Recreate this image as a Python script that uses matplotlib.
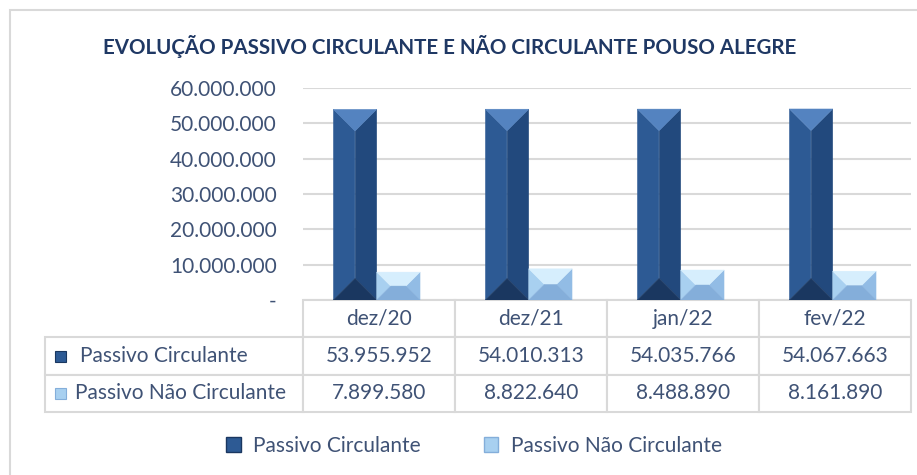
import matplotlib
matplotlib.use("Agg")
import matplotlib.pyplot as plt
from matplotlib.patches import Polygon, Rectangle, Patch
import numpy as np

categories = ["dez/20", "dez/21", "jan/22", "fev/22"]
circulante = [53955952, 54010313, 54035766, 54067663]
nao_circulante = [7899580, 8822640, 8488890, 8161890]
series_names = ["Passivo Circulante", "Passivo Não Circulante"]
title = "EVOLUÇÃO PASSIVO CIRCULANTE E NÃO CIRCULANTE POUSO ALEGRE"

TXT = "#3F5275"
NAVY = "#1F3864"
GRID = "#D9D9D9"
# left, right, top, bottom faces
DARK = ["#2D5A94", "#22497D", "#5483C0", "#1A3760"]
LIGHT = ["#A8D0F0", "#92BCE5", "#D6EEFD", "#84AEDA"]

plt.rcParams["font.family"] = ["Lato", "DejaVu Sans"]


def fmt(v):
    if v == 0:
        return "-"
    return f"{int(v):,}".replace(",", ".")


fig = plt.figure(figsize=(9.17, 4.75), dpi=100)
W, H = 917, 475
ax = fig.add_axes([303 / W, 1 - 300 / H, 608 / W, 212 / H])
ax.set_xlim(-0.5, 3.5)
ax.set_ylim(0, 60e6)

x = np.arange(len(categories))
bw = 0.285
off = 0.015
b1 = ax.bar(x - bw / 2 - off, circulante, bw, color=DARK[0], zorder=2)
b2 = ax.bar(x + bw / 2 - off, nao_circulante, bw, color=LIGHT[0], zorder=2)

pxx = 608 / 4.0
pxy = 212 / 60e6


def bevel(rects, cols):
    for r in rects:
        x0 = r.get_x()
        w = r.get_width()
        h = r.get_height()
        x1 = x0 + w
        b = min(w * pxx / 2, h * pxy / 2, 21.5)
        bx = b / pxx
        by = b / pxy
        faces = [
            [(x0, 0), (x0, h), (x0 + bx, h - by), (x0 + bx, by)],
            [(x1, 0), (x1, h), (x1 - bx, h - by), (x1 - bx, by)],
            [(x0, h), (x1, h), (x1 - bx, h - by), (x0 + bx, h - by)],
            [(x0, 0), (x1, 0), (x1 - bx, by), (x0 + bx, by)],
        ]
        if x1 - bx > x0 + bx:
            ax.add_patch(Rectangle((x0 + bx, by), w - 2 * bx, h - 2 * by,
                                   color=cols[0], lw=0, zorder=3))
        for f, c in zip(faces, cols):
            ax.add_patch(Polygon(f, closed=True, facecolor=c, edgecolor=c,
                                 lw=0.3, zorder=3))
        r.set_visible(False)


bevel(b1, DARK)
bevel(b2, LIGHT)

yt = np.arange(0, 60e6 + 1, 10e6)
ax.set_yticks(yt)
ax.set_yticklabels([fmt(v) for v in yt], color=TXT, fontsize=15)
ax.tick_params(axis="y", length=0, pad=19)
ax.tick_params(axis="x", length=0, labelbottom=False)
ax.yaxis.grid(True, color=GRID, lw=1.5, zorder=0)
for s in ax.spines.values():
    s.set_visible(False)

# data table
cell_text = [[n] + [fmt(v) for v in vals]
             for n, vals in zip(series_names, [circulante, nao_circulante])]
col_labels = [""] + categories
widths = [258, 152, 152, 152, 152]
tot = sum(widths)
tab = ax.table(cellText=cell_text, colLabels=col_labels,
               colWidths=[w_ / tot for w_ in widths], cellLoc="center",
               bbox=[-258 / 608, -112 / 212, tot / 608, 112 / 212])
tab.auto_set_font_size(False)
tab.set_fontsize(15)
for (r, c), cell in tab.get_celld().items():
    cell.set_edgecolor(GRID)
    cell.set_linewidth(1.5)
    cell.get_text().set_color(TXT)
    if r == 0 and c == 0:
        cell.set_visible(False)
    if c == 0 and r > 0:
        cell.get_text().set_ha("left")
        cell._loc = "left"
        cell.PAD = 0.135 if r == 1 else 0.115

# row label icons
for i, cols in enumerate([DARK, LIGHT]):
    yc = 1 - (356 + 37 * i) / H
    fig.patches.append(Rectangle((55 / W, yc - 5.5 / H), 11 / W, 11 / H,
                                 transform=fig.transFigure, facecolor=cols[0],
                                 edgecolor=cols[3], lw=0.8))

fig.text(450 / W, 1 - 46 / H, title, ha="center", va="center",
         fontsize=14.8, fontweight="bold", color=NAVY,
         family=["Liberation Sans Narrow", "Lato", "DejaVu Sans"])

handles = [Patch(facecolor=DARK[0], edgecolor=DARK[3]),
           Patch(facecolor=LIGHT[0], edgecolor=LIGHT[3])]
fig.legend(handles, series_names, loc="center", bbox_to_anchor=(474 / W, 1 - 446 / H),
           ncol=2, frameon=False, fontsize=15, labelcolor=TXT,
           handlelength=0.7, handleheight=0.7, columnspacing=3.0, handletextpad=0.6)

# outer frame
fig.patches.append(Rectangle((10 / W, -0.1), 1.2, 1 - 10 / H + 0.1,
                             transform=fig.transFigure, fill=False,
                             edgecolor=GRID, lw=1.5))

fig.savefig("out.png", dpi=100)
